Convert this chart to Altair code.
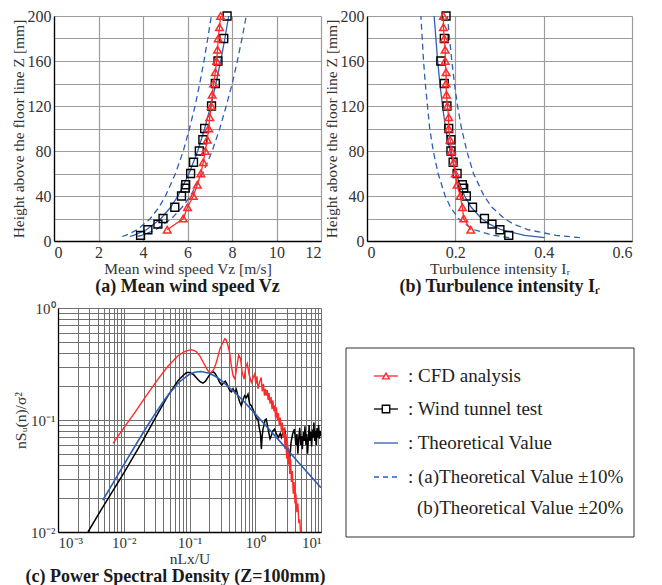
import altair as alt
import pandas as pd

# ---------------- (a) Mean wind speed ----------------
a_wt_z = [5, 10, 15, 20, 30, 40, 47, 50, 60, 70, 80, 90, 100, 120, 140, 160, 180, 200]
a_wt_v = [3.89, 4.22, 4.67, 4.90, 5.43, 5.73, 5.90, 5.92, 6.14, 6.27, 6.53, 6.69, 6.77, 7.08, 7.25, 7.37, 7.63, 7.78]
a_cfd_z = [10, 20, 30, 40, 50, 60, 70, 80, 90, 100, 110, 120, 130, 140, 150, 160, 170, 180, 190, 200]
a_cfd_v = [5.09, 5.81, 6.00, 6.26, 6.44, 6.60, 6.71, 6.80, 6.89, 6.95, 7.00, 7.07, 7.11, 7.17, 7.25, 7.31, 7.35, 7.38, 7.44, 7.49]
a_th_z = [4, 5, 10, 20, 30, 40, 60, 80, 100, 120, 140, 160, 180, 200]
a_th_v = [3.41, 3.58, 4.15, 4.81, 5.24, 5.57, 6.07, 6.46, 6.77, 7.04, 7.28, 7.49, 7.68, 7.85]
a_th_lo = [3.07, 3.22, 3.74, 4.33, 4.72, 5.01, 5.46, 5.81, 6.09, 6.34, 6.55, 6.74, 6.91, 7.07]
a_th_hi = [3.75, 3.94, 4.57, 5.29, 5.76, 6.13, 6.68, 7.11, 7.45, 7.74, 8.01, 8.24, 8.45, 8.64]

# ---------------- (b) Turbulence intensity ----------------
b_wt_z = [5, 10, 15, 20, 30, 40, 47, 50, 60, 70, 80, 90, 100, 120, 140, 160, 180, 200]
b_wt_i = [0.321, 0.301, 0.283, 0.266, 0.239, 0.225, 0.219, 0.216, 0.204, 0.195, 0.190, 0.190, 0.185, 0.181, 0.175, 0.167, 0.175, 0.179]
b_cfd_z = [10, 20, 30, 40, 50, 60, 70, 80, 90, 100, 110, 120, 130, 140, 150, 160, 170, 180, 190, 200]
b_cfd_i = [0.235, 0.219, 0.216, 0.211, 0.204, 0.200, 0.196, 0.191, 0.188, 0.185, 0.185, 0.182, 0.180, 0.179, 0.179, 0.177, 0.177, 0.175, 0.173, 0.173]
b_th_z = [3, 5, 10, 15, 20, 30, 40, 60, 80, 100, 120, 140, 160, 180, 200]
b_th_i = [0.402, 0.357, 0.304, 0.277, 0.259, 0.236, 0.221, 0.201, 0.188, 0.178, 0.171, 0.165, 0.160, 0.156, 0.152]
b_th_lo = [0.322, 0.286, 0.243, 0.222, 0.207, 0.189, 0.177, 0.161, 0.150, 0.142, 0.137, 0.132, 0.128, 0.125, 0.122]
b_th_hi = [0.482, 0.428, 0.365, 0.332, 0.311, 0.283, 0.265, 0.241, 0.226, 0.214, 0.205, 0.198, 0.192, 0.187, 0.182]

# ---------------- (c) Power spectral density ----------------
c_cfd_f = [0.00687, 0.01, 0.015, 0.02, 0.0332, 0.047, 0.0668, 0.085, 0.106, 0.125, 0.143, 0.17, 0.191, 0.21,
           0.235, 0.256, 0.29, 0.323, 0.343, 0.36, 0.385, 0.408, 0.435, 0.459, 0.49, 0.53, 0.56, 0.60, 0.63,
           0.675, 0.72, 0.757, 0.80, 0.871, 0.93, 0.98, 1.02, 1.06, 1.1, 1.17, 1.23, 1.28, 1.33, 1.38, 1.43,
           1.47, 1.52, 1.57, 1.62, 1.68, 1.74, 1.8, 1.86, 1.92, 1.97, 2.04, 2.1, 2.17, 2.25, 2.32, 2.4, 2.5,
           2.58, 2.66, 2.75, 2.84, 2.92, 3.0, 3.08, 3.17, 3.26, 3.35, 3.45, 3.55, 3.66, 3.78, 3.9, 4.02, 4.15,
           4.3, 4.45, 4.6, 4.75, 4.9]
c_cfd_s = [0.0619, 0.085, 0.118, 0.152, 0.232, 0.302, 0.375, 0.41, 0.425, 0.41, 0.375, 0.31, 0.275, 0.26,
           0.285, 0.327, 0.43, 0.494, 0.53, 0.52, 0.46, 0.40, 0.30, 0.25, 0.232, 0.31, 0.38, 0.35, 0.27,
           0.232, 0.30, 0.32, 0.26, 0.217, 0.24, 0.258, 0.21, 0.245, 0.19, 0.22, 0.24, 0.18, 0.21, 0.165, 0.19,
           0.165, 0.185, 0.15, 0.175, 0.14, 0.16, 0.125, 0.15, 0.12, 0.135, 0.105, 0.13, 0.1, 0.115, 0.09, 0.105, 0.08,
           0.095, 0.07, 0.085, 0.055, 0.075, 0.045, 0.065, 0.04, 0.055, 0.033, 0.045, 0.028, 0.035, 0.022, 0.028, 0.018, 0.022,
           0.015, 0.018, 0.012, 0.013, 0.0095]
c_wt_f = [0.00286, 0.00483, 0.01, 0.02, 0.0332, 0.0471, 0.0668, 0.08, 0.09, 0.1, 0.115, 0.13, 0.145, 0.16,
          0.175, 0.195, 0.215, 0.228, 0.245, 0.265, 0.29, 0.31, 0.33, 0.35, 0.37, 0.39, 0.41, 0.435, 0.46,
          0.49, 0.515, 0.55, 0.58, 0.614, 0.65, 0.69, 0.73, 0.776, 0.82, 0.871, 0.92, 0.965, 1.0, 1.06, 1.1,
          1.15, 1.2, 1.24, 1.27, 1.31, 1.36, 1.41, 1.47, 1.53, 1.6, 1.68, 1.75, 1.85, 1.97, 2.1, 2.25, 2.4,
          2.5, 2.65, 2.8, 2.95, 3.15, 3.3, 3.4, 3.5, 3.7, 3.95, 4.15, 4.3, 4.45, 4.6, 4.75, 4.9, 5.05, 5.2,
          5.4, 5.55, 5.7, 5.9, 6.05, 6.25, 6.45, 6.6, 6.8, 7.0, 7.2, 7.4, 7.6, 7.8, 8.0, 8.25, 8.5, 8.7, 8.95,
          9.2, 9.45, 9.7, 10.0]
c_wt_s = [0.01, 0.0168, 0.0336, 0.067, 0.115, 0.165, 0.224, 0.25, 0.265, 0.265, 0.255, 0.235, 0.22, 0.213,
          0.222, 0.245, 0.265, 0.27, 0.26, 0.24, 0.215, 0.205, 0.215, 0.222, 0.21, 0.195, 0.183, 0.178, 0.19,
          0.176, 0.188, 0.16, 0.145, 0.134, 0.152, 0.165, 0.158, 0.17, 0.14, 0.134, 0.125, 0.117, 0.11, 0.102, 0.102,
          0.085, 0.075, 0.055, 0.07, 0.083, 0.09, 0.1, 0.102, 0.09, 0.078, 0.068, 0.072, 0.08, 0.083, 0.075, 0.07, 0.076,
          0.07, 0.078, 0.083, 0.065, 0.055, 0.042, 0.05, 0.063, 0.075, 0.083, 0.06, 0.075, 0.05, 0.07, 0.085, 0.06, 0.072, 0.055,
          0.078, 0.065, 0.088, 0.06, 0.075, 0.05, 0.07, 0.09, 0.065, 0.078, 0.058, 0.082, 0.07, 0.095, 0.065, 0.08, 0.06, 0.085, 0.07,
          0.09, 0.068, 0.08, 0.072]
c_th_f = [0.0048, 0.007, 0.01, 0.015, 0.02, 0.03, 0.04, 0.05, 0.07, 0.1, 0.12, 0.15, 0.2, 0.25, 0.3, 0.5, 0.7,
          1.0, 1.5, 2.0, 3.0, 5.0, 7.0, 10.0]
c_th_s = [0.0192, 0.0279, 0.0398, 0.0592, 0.0782, 0.114, 0.1463, 0.1746, 0.2185, 0.256, 0.2672, 0.2712, 0.2612, 0.2443, 0.2271, 0.1742, 0.1424,
          0.1135, 0.0872, 0.0722, 0.0552, 0.0393, 0.0314, 0.0248]

# tick labels
a_x_ticks = [0, 2, 4, 6, 8, 10, 12]
b_x_ticks = [0, 0.2, 0.4, 0.6]
z_ticks = [0, 20, 40, 60, 80, 100, 120, 140, 160, 180, 200]
c_x_major = [0.001, 0.01, 0.1, 1, 10]
c_x_labels = ["10⁻³", "10⁻²", "10⁻¹", "10⁰", "10¹"]
c_y_major = [0.01, 0.1, 1]
c_y_labels = ["10⁻²", "10⁻¹", "10⁰"]

legend_labels = [": CFD analysis", ": Wind tunnel test", ": Theoretical Value",
                 ": (a)Theoretical Value ±10%", "(b)Theoretical Value ±20%"]

SERIF = "Liberation Serif, Times New Roman, serif"
RED = "#ff2b2b"
BLUE = "#2f5fb3"
TXT = "#333333"


def ab_axis(values, title, label_expr=None):
    kw = dict(values=values, title=title, grid=True, gridColor="#9c9c9c", gridWidth=1.2,
              ticks=False, domainColor="black", domainWidth=1.3, format="~f",
              labelFont=SERIF, labelFontSize=16, labelColor=TXT, labelPadding=3,
              titleFont=SERIF, titleFontSize=15.5, titleFontWeight="normal", titleColor=TXT,
              titlePadding=1)
    if label_expr:
        kw["labelExpr"] = label_expr
    return alt.Axis(**kw)


def caption(text, dx=0):
    return alt.TitleParams(text, orient="bottom", font=SERIF, fontSize=18, fontWeight="bold",
                           color="#1a1a1a", offset=1, dx=dx)


z_label_expr = "datum.value % 40 == 0 ? datum.label : ''"


def profile_panel(th_z, th_mid, th_lo, th_hi, wt_z, wt_v, cfd_z, cfd_v, xdom, xticks, xtitle, width, cap):
    df_th = pd.DataFrame({"z": th_z, "v": th_mid})
    df_band = pd.concat([pd.DataFrame({"z": th_z, "v": th_lo, "k": "lo"}),
                         pd.DataFrame({"z": th_z, "v": th_hi, "k": "hi"})])
    df_wt = pd.DataFrame({"z": wt_z, "v": wt_v})
    df_cfd = pd.DataFrame({"z": cfd_z, "v": cfd_v})
    x = alt.X("v:Q", scale=alt.Scale(domain=xdom, nice=False, zero=False), axis=ab_axis(xticks, xtitle))
    y = alt.Y("z:Q", scale=alt.Scale(domain=[0, 200], nice=False),
              axis=ab_axis(z_ticks, "Height above the floor line Z [mm]", z_label_expr))
    th = alt.Chart(df_th).mark_line(color=BLUE, strokeWidth=1.3).encode(x=x, y=y, order="z:Q")
    band = alt.Chart(df_band).mark_line(color=BLUE, strokeWidth=1.3, strokeDash=[6, 4]).encode(
        x=x, y=y, detail="k:N", order="z:Q")
    wt = alt.Chart(df_wt).mark_point(shape="square", color="black", size=62, strokeWidth=1.4,
                                     filled=False, opacity=1).encode(x=x, y=y)
    cfd_line = alt.Chart(df_cfd).mark_line(color=RED, strokeWidth=1.3).encode(x=x, y=y, order="z:Q")
    cfd_pt = alt.Chart(df_cfd).mark_point(shape="triangle-up", color=RED, size=58, strokeWidth=1.5,
                                          filled=False, opacity=1).encode(x=x, y=y)
    return alt.layer(th, band, wt, cfd_line, cfd_pt).properties(
        width=width, height=225, title=caption(cap))


panel_a = profile_panel(a_th_z, a_th_v, a_th_lo, a_th_hi, a_wt_z, a_wt_v, a_cfd_z, a_cfd_v,
                        [0, 12], a_x_ticks, "Mean wind speed Vz [m/s]", 267,
                        "(a) Mean wind speed Vz")
panel_b = profile_panel(b_th_z, b_th_i, b_th_lo, b_th_hi, b_wt_z, b_wt_i, b_cfd_z, b_cfd_i,
                        [0, 0.6], b_x_ticks, "Turbulence intensity Iᵣ", 265,
                        "(b) Turbulence intensity Iᵣ")

# ---- (c): grid at every 1..9 x decade, labels only at the decades
x_grid_vals = []
for major in c_x_major[:-1]:
    x_grid_vals += [major] + [k * major for k in range(2, 10)]
x_grid_vals.append(c_x_major[-1])
y_grid_vals = []
for major in c_y_major[:-1]:
    y_grid_vals += [major] + [k * major for k in range(2, 10)]
y_grid_vals.append(c_y_major[-1])


def lab_expr(vals, labels):
    e = "''"
    for v, l in zip(reversed(vals), reversed(labels)):
        e = f"datum.value == {v} ? '{l}' : ({e})"
    return e


def c_axis(values, title, vals, labels, flush=False, title_pad=1):
    kw = dict(values=values, title=title, grid=True, gridColor="#707070", gridWidth=1,
              ticks=False, domainColor="black", domainWidth=1.3, labelOverlap=False,
              labelFont=SERIF, labelFontSize=15, labelColor=TXT, labelPadding=3,
              labelExpr=lab_expr(vals, labels),
              titleFont=SERIF, titleFontSize=15.5, titleFontWeight="normal", titleColor=TXT,
              titlePadding=title_pad)
    if flush:
        kw["labelFlush"] = True
    return alt.Axis(**kw)


xc = alt.X("f:Q", scale=alt.Scale(type="log", domain=[0.001, 10], nice=False),
           axis=c_axis(x_grid_vals, "nLx/U", c_x_major, c_x_labels, flush=True))
yc = alt.Y("s:Q", scale=alt.Scale(type="log", domain=[0.01, 1], nice=False),
           axis=c_axis(y_grid_vals, "nSᵤ(n)/σ²", c_y_major, c_y_labels, title_pad=2))

c_black = alt.Chart(pd.DataFrame({"f": c_wt_f, "s": c_wt_s})).mark_line(
    color="black", strokeWidth=1.5, clip=True).encode(x=xc, y=yc)
c_red = alt.Chart(pd.DataFrame({"f": c_cfd_f, "s": c_cfd_s})).mark_line(
    color=RED, strokeWidth=1.4, clip=True).encode(x=xc, y=yc)
c_blue = alt.Chart(pd.DataFrame({"f": c_th_f, "s": c_th_s})).mark_line(
    color=BLUE, strokeWidth=1.6, clip=True).encode(x=xc, y=yc)
panel_c = alt.layer(c_black, c_red, c_blue).properties(
    width=263, height=224, title=caption("(c) Power Spectral Density (Z=100mm)", dx=-14))

# ---- legend panel (custom drawn)
dummy = pd.DataFrame({"a": [0]})
no_view = alt.ViewBackground(stroke="transparent")
LX0, LX1, LXM, LTX, LTX2 = 50, 74, 62, 84, 93
LY = [68, 101, 135, 169, 200]
leg_layers = [
    alt.Chart(dummy).mark_rect(fill="white", stroke="#333333", strokeWidth=1).encode(
        x=alt.value(22), x2=alt.value(310), y=alt.value(40), y2=alt.value(229)),
    alt.Chart(dummy).mark_rule(color=RED, strokeWidth=1.3).encode(
        x=alt.value(LX0), x2=alt.value(LX1), y=alt.value(LY[0])),
    alt.Chart(dummy).mark_point(shape="triangle-up", stroke=RED, fill="white", size=45, strokeWidth=1.4,
                                filled=True, opacity=1, strokeOpacity=1, fillOpacity=1).encode(
        x=alt.value(LXM), y=alt.value(LY[0])),
    alt.Chart(dummy).mark_rule(color="black", strokeWidth=1.3).encode(
        x=alt.value(LX0), x2=alt.value(LX1), y=alt.value(LY[1])),
    alt.Chart(dummy).mark_point(shape="square", stroke="black", fill="white", size=55, strokeWidth=1.4,
                                filled=True, opacity=1, strokeOpacity=1, fillOpacity=1).encode(
        x=alt.value(LXM), y=alt.value(LY[1])),
    alt.Chart(dummy).mark_rule(color=BLUE, strokeWidth=1.3).encode(
        x=alt.value(LX0), x2=alt.value(LX1), y=alt.value(LY[2])),
    alt.Chart(dummy).mark_rule(color=BLUE, strokeWidth=1.3, strokeDash=[5, 4]).encode(
        x=alt.value(LX0), x2=alt.value(LX1), y=alt.value(LY[3])),
]
for i, lab in enumerate(legend_labels):
    leg_layers.append(
        alt.Chart(dummy).mark_text(align="left", baseline="middle", font=SERIF, fontSize=19,
                                   color="#222222").encode(
            x=alt.value(LTX if i < 4 else LTX2), y=alt.value(LY[i]), text=alt.value(lab)))
legend_panel = alt.layer(*leg_layers).properties(width=311, height=224, view=no_view)

spacer = alt.Chart(dummy).mark_point(opacity=0).encode(
    x=alt.value(0), y=alt.value(0)).properties(width=1, height=1, view=no_view)

top = alt.hconcat(panel_a, panel_b, spacing=46, bounds="flush")
bottom = alt.hconcat(spacer, panel_c, legend_panel, spacing=3, bounds="flush")

chart = alt.vconcat(top, bottom, spacing=4).properties(
    padding={"left": 2, "top": -1, "right": 5, "bottom": 0}
).configure_view(stroke="black", strokeWidth=1.4).configure(background="white")

chart.save("out.html", embed_options={"renderer": "svg", "actions": False})
